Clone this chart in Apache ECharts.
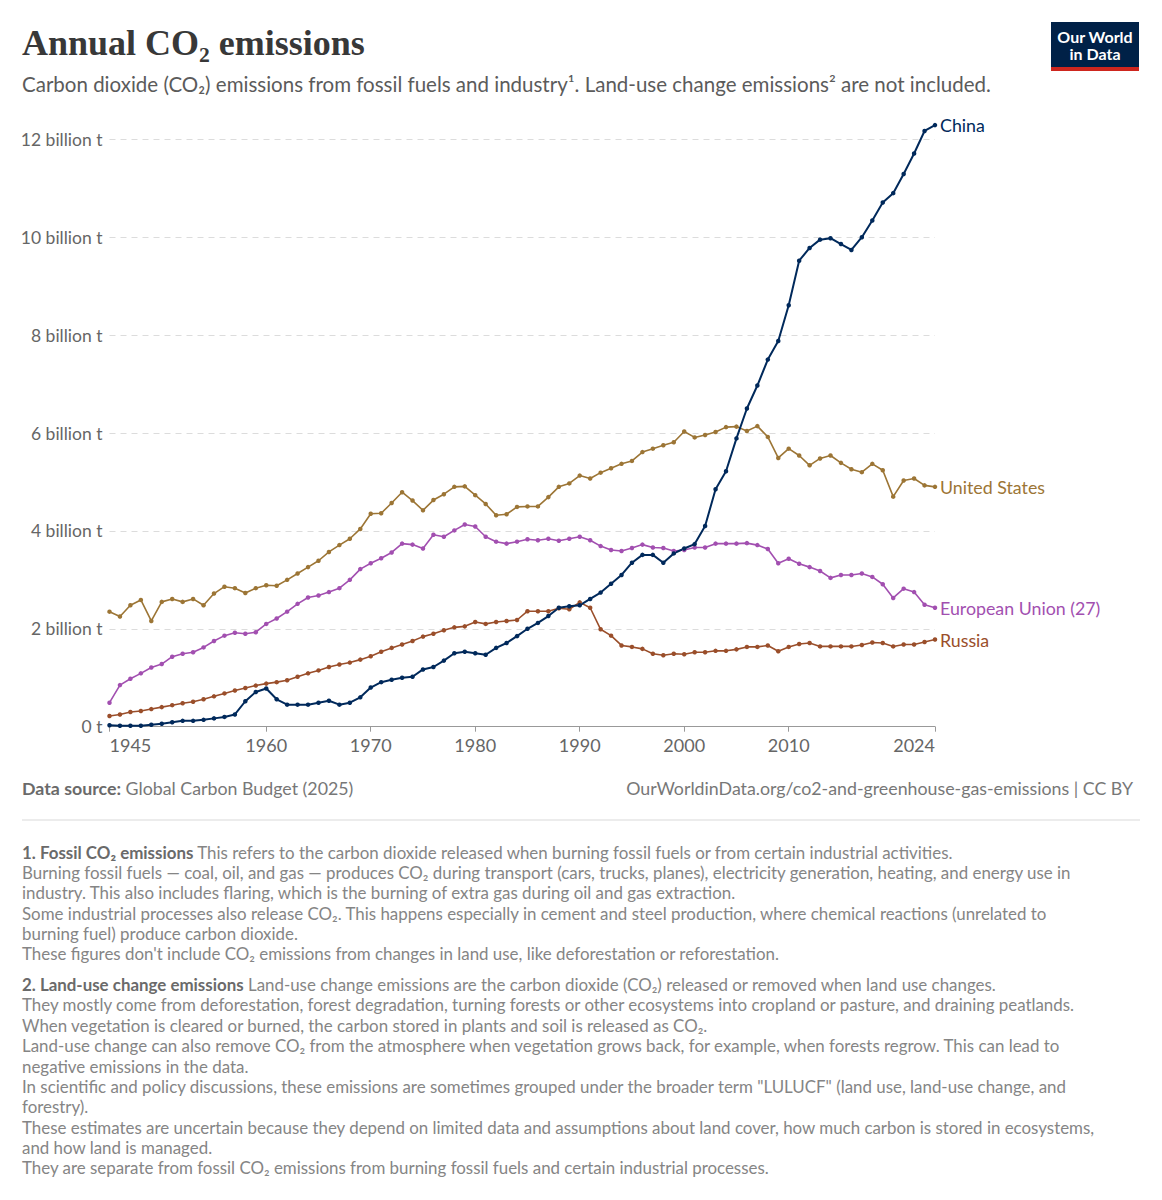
<!DOCTYPE html>
<html><head><meta charset="utf-8">
<script src="https://cdn.jsdelivr.net/npm/echarts@6/dist/echarts.min.js"></script>
<style>html,body{margin:0;padding:0;background:#fff}#c{width:1162px;height:1200px}</style>
</head><body><div id="c"></div>
<script>
const startYear = 1945;
const endYear = 2024;
const xTickYears = [1945,1960,1970,1980,1990,2000,2010,2024];
const yTickValues = [0,2,4,6,8,10,12];

const chinaValues = [
 0.03,0.02,0.02,0.02,0.04,0.06,0.09,0.12,0.12,0.14,
 0.17,0.20,0.25,0.52,0.71,0.78,0.56,0.45,0.45,0.45,
 0.49,0.53,0.45,0.49,0.60,0.80,0.91,0.96,1.00,1.02,
 1.17,1.22,1.35,1.50,1.53,1.50,1.47,1.61,1.71,1.85,
 2.00,2.12,2.26,2.43,2.46,2.48,2.61,2.74,2.92,3.10,
 3.35,3.51,3.51,3.35,3.54,3.64,3.73,4.10,4.85,5.22,
 5.89,6.50,6.97,7.50,7.88,8.61,9.52,9.78,9.95,9.98,
 9.86,9.74,10.00,10.34,10.71,10.90,11.29,11.71,12.17,12.29
];
const usValues = [
 2.35,2.25,2.48,2.59,2.16,2.55,2.61,2.55,2.61,2.48,
 2.72,2.86,2.83,2.73,2.83,2.89,2.88,3.00,3.13,3.26,
 3.39,3.57,3.71,3.84,4.04,4.35,4.36,4.57,4.79,4.62,
 4.42,4.63,4.75,4.90,4.91,4.73,4.55,4.32,4.34,4.49,
 4.50,4.50,4.69,4.90,4.97,5.13,5.07,5.19,5.28,5.37,
 5.43,5.61,5.68,5.75,5.81,6.03,5.91,5.96,6.02,6.12,
 6.13,6.04,6.14,5.92,5.49,5.68,5.54,5.34,5.48,5.54,
 5.39,5.26,5.20,5.37,5.24,4.70,5.03,5.07,4.93,4.90
];
const euValues = [
 0.49,0.85,0.98,1.09,1.21,1.28,1.43,1.49,1.52,1.62,
 1.75,1.86,1.92,1.90,1.93,2.10,2.21,2.35,2.51,2.64,
 2.68,2.75,2.83,3.00,3.22,3.34,3.44,3.56,3.74,3.72,
 3.64,3.92,3.88,4.01,4.13,4.09,3.88,3.78,3.74,3.78,
 3.83,3.81,3.84,3.80,3.84,3.88,3.81,3.69,3.61,3.59,
 3.65,3.72,3.66,3.65,3.59,3.61,3.66,3.66,3.74,3.74,
 3.74,3.75,3.71,3.63,3.34,3.43,3.33,3.26,3.18,3.04,
 3.10,3.10,3.13,3.06,2.91,2.63,2.82,2.75,2.49,2.43
];
const russiaValues = [
 0.22,0.25,0.30,0.32,0.36,0.40,0.44,0.48,0.51,0.56,
 0.62,0.68,0.74,0.79,0.84,0.88,0.91,0.95,1.02,1.09,
 1.15,1.22,1.27,1.31,1.37,1.44,1.53,1.61,1.68,1.75,
 1.84,1.90,1.97,2.03,2.05,2.14,2.10,2.14,2.16,2.18,
 2.36,2.36,2.36,2.42,2.40,2.54,2.43,1.99,1.86,1.66,
 1.63,1.59,1.49,1.46,1.49,1.48,1.52,1.52,1.55,1.55,
 1.58,1.63,1.63,1.66,1.54,1.63,1.69,1.71,1.64,1.64,
 1.64,1.64,1.67,1.72,1.71,1.64,1.68,1.68,1.73,1.78
];
const seriesNames = ['United States','European Union (27)','Russia','China'];
const seriesColors = ['#9c7535','#a24fb0','#9a4e2a','#00295b'];

const notes = [
 ['{b|1. Fossil CO₂ emissions} This refers to the carbon dioxide released when burning fossil fuels or from certain industrial activities.',0],
 ['Burning fossil fuels — coal, oil, and gas — produces CO₂ during transport (cars, trucks, planes), electricity generation, heating, and energy use in',0],
 ['industry. This also includes flaring, which is the burning of extra gas during oil and gas extraction.',0],
 ['Some industrial processes also release CO₂. This happens especially in cement and steel production, where chemical reactions (unrelated to',0],
 ['burning fuel) produce carbon dioxide.',0],
 ['These figures don\'t include CO₂ emissions from changes in land use, like deforestation or reforestation.',0],
 ['{b|2. Land-use change emissions} Land-use change emissions are the carbon dioxide (CO₂) released or removed when land use changes.',1],
 ['They mostly come from deforestation, forest degradation, turning forests or other ecosystems into cropland or pasture, and draining peatlands.',1],
 ['When vegetation is cleared or burned, the carbon stored in plants and soil is released as CO₂.',1],
 ['Land-use change can also remove CO₂ from the atmosphere when vegetation grows back, for example, when forests regrow. This can lead to',1],
 ['negative emissions in the data.',1],
 ['In scientific and policy discussions, these emissions are sometimes grouped under the broader term "LULUCF" (land use, land-use change, and',1],
 ['forestry).',1],
 ['These estimates are uncertain because they depend on limited data and assumptions about land cover, how much carbon is stored in ecosystems,',1],
 ['and how land is managed.',1],
 ['They are separate from fossil CO₂ emissions from burning fossil fuels and certain industrial processes.',1]
];

const years = [];
for (let y = startYear; y <= endYear; y++) years.push(y);
const allValues = [usValues, euValues, russiaValues, chinaValues];

const FONT = 'Lato, "Noto Sans", sans-serif';
const chart = echarts.init(document.getElementById('c'), null, {renderer:'svg', width:1162, height:1200});

const graphic = [
 {type:'text', x:22, y:43, style:{text:'Annual CO₂ emissions', font:'bold 36px "Liberation Serif", "DejaVu Serif", serif', fill:'#383838', verticalAlign:'middle'}},
 {type:'text', x:22, y:84, style:{text:'Carbon dioxide (CO₂) emissions from fossil fuels and industry¹. Land-use change emissions² are not included.', font:'20.5px '+FONT, fill:'#5b5b5b', verticalAlign:'middle'}},
 {type:'rect', shape:{x:1051, y:22, width:88, height:49}, style:{fill:'#002147'}},
 {type:'rect', shape:{x:1051, y:67, width:88, height:4}, style:{fill:'#ce261e'}},
 {type:'text', x:1095, y:36, style:{text:'Our World', font:'bold 16px '+FONT, fill:'#fff', align:'center', verticalAlign:'middle'}},
 {type:'text', x:1095, y:53, style:{text:'in Data', font:'bold 16px '+FONT, fill:'#fff', align:'center', verticalAlign:'middle'}},
 {type:'text', x:22, y:788, style:{text:'{b|Data source:} Global Carbon Budget (2025)', font:'17.8px '+FONT, fill:'#777', verticalAlign:'middle', rich:{b:{fontWeight:'bold', fontSize:17.8, fontFamily:'Lato', fill:'#6a6a6a'}}}},
 {type:'text', x:1133, y:788, style:{text:'OurWorldinData.org/co2-and-greenhouse-gas-emissions | CC BY', font:'17.8px '+FONT, fill:'#777', align:'right', verticalAlign:'middle'}},
 {type:'line', shape:{x1:22, y1:820, x2:1140, y2:820}, style:{stroke:'#e6e6e6', lineWidth:1.5}}
];
notes.forEach((n, i) => {
  graphic.push({type:'text', x:22, y:852 + i*20.35 + n[1]*10.5,
    style:{text:n[0], font:'16.9px '+FONT, fill:'#858585', verticalAlign:'middle',
      rich:{b:{fontWeight:'bold', fontSize:16.9, fontFamily:'Lato', fill:'#6a6a6a'}}}});
});

chart.setOption({
  animation:false,
  textStyle:{fontFamily:FONT},
  grid:{left:109.5, right:227, top:139.3, bottom:473.3, containLabel:false},
  xAxis:{
    type:'value', min:startYear, max:endYear,
    axisLine:{show:true, lineStyle:{color:'#999', width:1}},
    axisTick:{show:true, customValues:xTickYears, length:5, lineStyle:{color:'#999'}},
    axisLabel:{customValues:xTickYears, fontSize:18, color:'#666', margin:9, alignMinLabel:'left', alignMaxLabel:'right', formatter:v=>String(v)},
    splitLine:{show:false}
  },
  yAxis:{
    type:'value', min:0, max:12, interval:2,
    axisLine:{show:false}, axisTick:{show:false},
    axisLabel:{fontSize:17.5, color:'#666', margin:7, formatter:v=> v===0 ? '0 t' : v+' billion t'},
    splitLine:{show:true, lineStyle:{color:'#dcdcdc', type:[6,5], width:1}}
  },
  series: seriesNames.map((name, si) => ({
    name, type:'line', clip:false,
    data: years.map((y, i) => [y, allValues[si][i]]),
    symbol:'circle', symbolSize:4.5, showSymbol:true,
    lineStyle:{color:seriesColors[si], width:si===3?2:1.6},
    itemStyle:{color:seriesColors[si]},
    endLabel:{show:true, formatter:'{a}', color:seriesColors[si], fontSize:17.8, fontFamily:'Lato', distance:5},
    emphasis:{disabled:true}
  })),
  graphic
});
</script></body></html>
